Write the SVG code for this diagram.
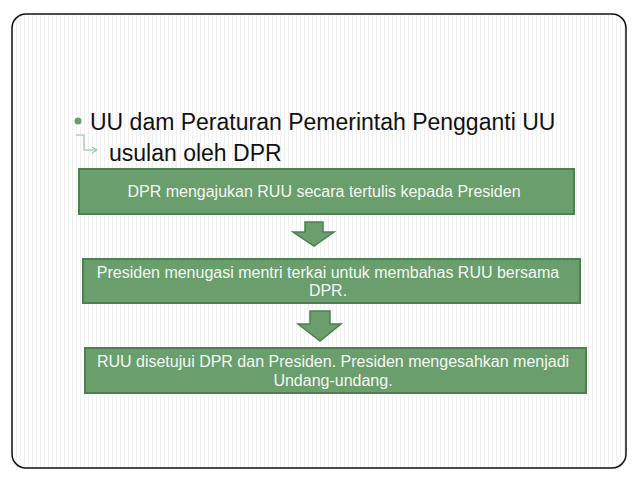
<svg xmlns="http://www.w3.org/2000/svg" width="638" height="479" viewBox="0 0 638 479">
<defs>
<pattern id="stripes" width="4" height="4" patternUnits="userSpaceOnUse"><rect width="4" height="4" fill="#ffffff"/><rect width="1" height="4" fill="#f0f0f0"/></pattern>
<style>
.box{fill:#6a9e6c;stroke:#4e7f51;stroke-width:2}
.bt{font-family:"Liberation Sans",Arial,sans-serif;font-size:16px;fill:#f4f8f4;text-anchor:middle}
.arr{fill:#6a9e6c;stroke:#4e7f51;stroke-width:1.5}
.h{font-family:"Liberation Sans",Arial,sans-serif;font-size:23px;fill:#111}
</style>
</defs>
<rect width="638" height="479" fill="#ffffff"/>
<rect x="12" y="14" width="614" height="454" rx="14" fill="url(#stripes)" stroke="#111" stroke-width="1.5"/>
<g id="title">
<circle cx="78" cy="121" r="3.5" fill="#6a9e6c"/>
<text class="h" x="90" y="130">UU dam Peraturan Pemerintah Pengganti UU</text>
<path d="M76 135 H84 V150 H96" fill="none" stroke="#8ab88c" stroke-width="1"/>
<path d="M92 147 L97 150 L92 153" fill="none" stroke="#8ab88c" stroke-width="1"/>
<text class="h" x="109" y="161">usulan oleh DPR</text>
</g>
<g id="n1"><rect class="box" x="79" y="169" width="495" height="45"/><text class="bt" x="324" y="197">DPR mengajukan RUU secara tertulis kepada Presiden</text></g>
<g id="n2"><rect class="box" x="83" y="259" width="497" height="44"/><text class="bt" x="328" y="278">Presiden menugasi mentri terkai untuk membahas RUU bersama</text><text class="bt" x="328" y="296">DPR.</text></g>
<g id="n3"><rect class="box" x="85" y="348" width="501" height="45"/><text class="bt" x="333" y="367">RUU disetujui DPR dan Presiden. Presiden mengesahkan menjadi</text><text class="bt" x="333" y="386">Undang-undang.</text></g>
<g id="connectors">
<path class="arr" d="M305 222 H323 V232 H334 L314 246 L293 232 H305 Z"/>
<path class="arr" d="M310 311 H330 V324 H341 L320 341 L298 324 H310 Z"/>
</g>
</svg>
